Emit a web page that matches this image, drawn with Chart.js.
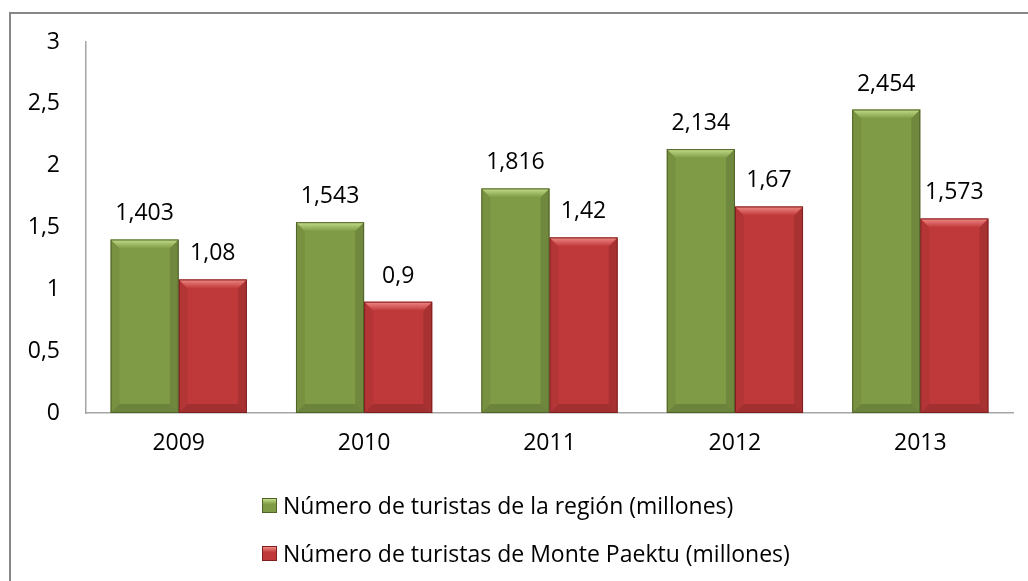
<!DOCTYPE html>
<html>
<head>
<meta charset="utf-8">
<script src="https://cdn.jsdelivr.net/npm/chart.js@4"></script>
<style>
    html, body { margin: 0; padding: 0; background: #fff; overflow: hidden; }
    #marco { position: absolute; left: 0; top: 0; width: 1028px; height: 581px; overflow: hidden; }
    #borde { position: absolute; left: 9px; top: 12px; width: 1100px; height: 700px; border: 2px solid #878787; }
    #grafico { position: absolute; left: 0; top: 0; }
    #leyenda { position: absolute; left: 262px; top: 490px; font-family: 'Open Sans', sans-serif; font-size: 23px; color: #000; }
    .item { position: absolute; left: 0; white-space: nowrap; height: 30px; line-height: 30px; }
    .caja { position: absolute; left: 0; top: 8px; width: 15px; height: 15px; box-sizing: border-box; }
    .texto { position: absolute; left: 21px; top: 0; }
</style>
</head>
<body>
<div id="marco">
    <div id="borde"></div>
    <canvas id="grafico" width="1028" height="581"></canvas>
    <div id="leyenda"></div>
</div>
<script>
// Datos del gráfico
const categorias = ['2009', '2010', '2011', '2012', '2013'];
const turistasRegion = [1.403, 1.543, 1.816, 2.134, 2.454];
const turistasPaektu = [1.08, 0.9, 1.42, 1.67, 1.573];
const nombresSeries = [
    'Número de turistas de la región (millones)',
    'Número de turistas de Monte Paektu (millones)'
];
const ticksY = [0, 0.5, 1, 1.5, 2, 2.5, 3];

const colores = [
    { cuerpo: '#7F9B46', claro: '#C4DE8A', oscuro: '#4F6228' },
    { cuerpo: '#C0393A', claro: '#F08A86', oscuro: '#7E1E1E' }
];

const fuente = 'Open Sans';
const tamFuente = 23;

// Formato con coma decimal
function formatoNumero(v) {
    return String(v).replace('.', ',');
}

// Efecto de bisel en las barras y etiquetas de datos
const biselPlugin = {
    id: 'bisel',
    afterDatasetsDraw(chart) {
        const ctx = chart.ctx;
        chart.data.datasets.forEach((ds, i) => {
            const meta = chart.getDatasetMeta(i);
            const c = colores[i];
            meta.data.forEach((bar, j) => {
                const p = bar.getProps(['x', 'y', 'base', 'width'], true);
                const l = p.x - p.width / 2;
                const r = p.x + p.width / 2;
                const t = p.y;
                const b = p.base;
                const s = 9;
                ctx.save();
                // bisel superior
                const g = ctx.createLinearGradient(0, t, 0, t + s);
                g.addColorStop(0, c.claro);
                g.addColorStop(1, c.cuerpo);
                ctx.fillStyle = g;
                ctx.beginPath();
                ctx.moveTo(l, t); ctx.lineTo(r, t); ctx.lineTo(r - s, t + s); ctx.lineTo(l + s, t + s);
                ctx.closePath(); ctx.fill();
                // lados
                ctx.fillStyle = 'rgba(0,0,0,0.06)';
                ctx.beginPath();
                ctx.moveTo(l, t); ctx.lineTo(l + s, t + s); ctx.lineTo(l + s, b - s); ctx.lineTo(l, b);
                ctx.closePath(); ctx.fill();
                ctx.fillStyle = 'rgba(0,0,0,0.12)';
                ctx.beginPath();
                ctx.moveTo(r, t); ctx.lineTo(r - s, t + s); ctx.lineTo(r - s, b - s); ctx.lineTo(r, b);
                ctx.closePath(); ctx.fill();
                // bisel inferior
                ctx.fillStyle = 'rgba(0,0,0,0.15)';
                ctx.beginPath();
                ctx.moveTo(l, b); ctx.lineTo(r, b); ctx.lineTo(r - s, b - s); ctx.lineTo(l + s, b - s);
                ctx.closePath(); ctx.fill();
                // contorno
                ctx.strokeStyle = c.oscuro;
                ctx.lineWidth = 1;
                ctx.strokeRect(l + 0.5, t + 0.5, p.width - 1, b - t - 1);
                // etiqueta
                ctx.fillStyle = '#000';
                ctx.font = tamFuente + 'px "' + fuente + '"';
                ctx.textAlign = 'center';
                ctx.textBaseline = 'alphabetic';
                ctx.fillText(formatoNumero(ds.data[j]), p.x, t - 19);
                ctx.restore();
            });
        });
    }
};

const ctx = document.getElementById('grafico').getContext('2d');

const grafico = new Chart(ctx, {
    type: 'bar',
    data: {
        labels: categorias,
        datasets: [
            {
                label: nombresSeries[0],
                data: turistasRegion,
                backgroundColor: colores[0].cuerpo,
                borderWidth: 0
            },
            {
                label: nombresSeries[1],
                data: turistasPaektu,
                backgroundColor: colores[1].cuerpo,
                borderWidth: 0
            }
        ]
    },
    options: {
        responsive: false,
        animation: false,
        layout: {
            padding: { top: 42, right: 15, bottom: 0, left: 0 }
        },
        datasets: {
            bar: {
                barPercentage: 1,
                categoryPercentage: 0.735
            }
        },
        scales: {
            x: {
                grid: { display: false, drawTicks: false },
                border: { display: true, color: '#A6A6A6', width: 1.5 },
                ticks: {
                    color: '#000',
                    padding: 17,
                    font: { family: fuente, size: tamFuente }
                },
                afterFit: function (scale) { scale.height = 168; }
            },
            y: {
                min: 0,
                max: 3,
                grid: { display: false, drawTicks: false },
                border: { display: true, color: '#A6A6A6', width: 1.5 },
                afterBuildTicks: function (scale) {
                    scale.ticks = ticksY.map(v => ({ value: v }));
                },
                ticks: {
                    color: '#000',
                    padding: 26,
                    font: { family: fuente, size: tamFuente },
                    callback: function (value) { return formatoNumero(value); }
                },
                afterFit: function (scale) { scale.width = 86; }
            }
        },
        plugins: {
            legend: { display: false },
            tooltip: { enabled: false }
        }
    },
    plugins: [biselPlugin]
});

// Leyenda en HTML (dos filas)
const leyenda = document.getElementById('leyenda');
nombresSeries.forEach((nombre, i) => {
    const item = document.createElement('div');
    item.className = 'item';
    item.style.top = (i * 48) + 'px';
    item.innerHTML = `
        <span class="caja" style="background: linear-gradient(${colores[i].claro}, ${colores[i].cuerpo} 40%, ${colores[i].cuerpo}); border: 1px solid ${colores[i].oscuro};"></span>
        <span class="texto">${nombre}</span>
    `;
    leyenda.appendChild(item);
});
</script>
</body>
</html>
